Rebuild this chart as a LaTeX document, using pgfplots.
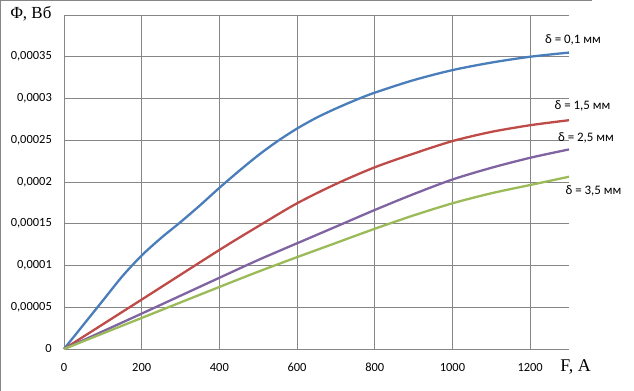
\documentclass[border=0pt]{standalone}
\usepackage{pgfplots}
\pgfplotsset{compat=1.18}
\usepackage{fontspec}
\setmainfont{Carlito}
\newfontfamily\serif{Liberation Serif}
\definecolor{gridgray}{RGB}{134,134,134}
\definecolor{cblue}{RGB}{74,126,187}
\definecolor{cred}{RGB}{190,75,72}
\definecolor{cpurple}{RGB}{128,100,162}
\definecolor{cgreen}{RGB}{155,187,89}
\begin{document}
\begin{tikzpicture}
\useasboundingbox (0,0) rectangle (634bp,391bp);
\draw[gridgray, line width=0.8bp] (0.6bp,0) -- (0.6bp,390.6bp) -- (592bp,390.6bp);
\begin{axis}[
  at={(64bp,42bp)}, anchor=south west,
  scale only axis, width=505bp, height=334bp,
  xmin=0, xmax=1300, ymin=0, ymax=0.0004,
  scaled y ticks=false, scaled x ticks=false,
  axis line style={draw=none},
  major tick length=0pt,
  xtick={0,200,400,600,800,1000,1200},
  xticklabels={0,200,400,600,800,1000,1200},
  ytick={0,0.00005,0.0001,0.00015,0.0002,0.00025,0.0003,0.00035,0.0004},
  yticklabels={0,{0,00005},{0,0001},{0,00015},{0,0002},{0,00025},{0,0003},{0,00035},{}},
  grid=major,
  major grid style={gridgray, line width=0.8bp},
  tick label style={font=\fontsize{12.5}{14}\selectfont, text=black},
  xticklabel style={anchor=north, inner sep=0pt, yshift=-14bp},
  yticklabel style={anchor=east, inner sep=0pt, xshift=-12bp},
  every axis plot/.append style={line width=2.3bp, smooth, no markers},
  clip=false,
]
\addplot[cblue] coordinates {
(0,0) (50,0.000029) (100,0.000058) (150,0.000087) (200,0.000112)
(250,0.000133) (300,0.000152) (350,0.000172) (400,0.000193) (450,0.000213)
(500,0.000232) (550,0.000249) (600,0.000264) (650,0.000277) (700,0.000288)
(750,0.000298) (800,0.000307) (900,0.000322)
(1000,0.000334) (1100,0.000343) (1200,0.00035) (1300,0.000355)};
\addplot[cred] coordinates {
(0,0) (200,0.0000592) (400,0.0001186) (500,0.000147) (600,0.0001745)
(700,0.0001976) (800,0.0002176) (900,0.000234) (1000,0.000249)
(1100,0.00026) (1200,0.000268) (1300,0.000274)};
\addplot[cpurple] coordinates {
(0,0) (200,0.0000424) (400,0.0000853) (500,0.0001066) (600,0.0001266)
(700,0.0001465) (800,0.0001665) (900,0.0001855) (1000,0.000203)
(1100,0.000217) (1200,0.000229) (1300,0.000239)};
\addplot[cgreen] coordinates {
(0,0) (200,0.0000372) (400,0.0000743) (500,0.0000926) (600,0.00011)
(700,0.000127) (800,0.000144) (900,0.00016) (1000,0.0001745)
(1100,0.0001865) (1200,0.0001964) (1300,0.0002063)};
\end{axis}
\node[font=\serif\fontsize{17}{19}\selectfont, inner sep=0pt] at (31bp,377bp) {Φ, Вб};
\node[font=\serif\fontsize{18}{20}\selectfont, inner sep=0pt] at (575.5bp,24bp) {F, A};
\begin{scope}[every node/.style={font=\fontsize{13}{15}\selectfont, inner sep=0pt}]
\node at (573bp,351bp) {δ = 0,1 мм};
\node at (582.5bp,285.3bp) {δ = 1,5 мм};
\node at (586bp,252.7bp) {δ = 2,5 мм};
\node at (593.5bp,200.3bp) {δ = 3,5 мм};
\end{scope}
\end{tikzpicture}
\end{document}
